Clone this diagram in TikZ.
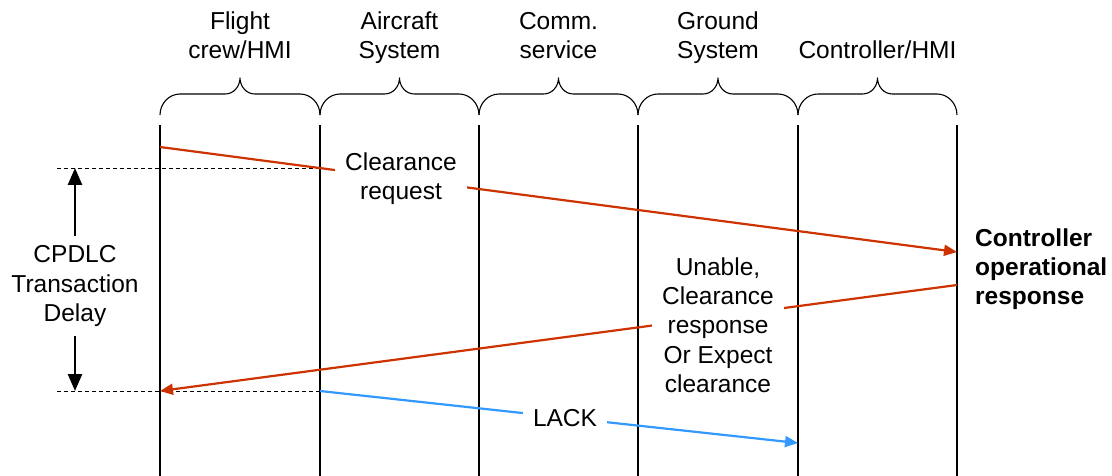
\documentclass[tikz,border=0pt]{standalone}
\usepackage{fontspec}
\setmainfont{Liberation Sans}
\usetikzlibrary{arrows.meta}
\definecolor{msgred}{RGB}{204,51,0}
\definecolor{msgblue}{RGB}{51,153,255}
\begin{document}
\begin{tikzpicture}[x=1pt,y=-1pt,
  txt/.style={font=\fontsize{24.5}{29.3}\selectfont, align=center, inner sep=0pt},
  lifeline/.style={line width=2.6pt},
  bracepath/.style={line width=1.1pt, line join=round},
  guide/.style={line width=0.8pt, dash pattern=on 4pt off 3pt},
  redmsg/.style={draw=msgred, line width=2.2pt, -{Triangle[length=13pt,width=11pt]}},
  bluemsg/.style={draw=msgblue, line width=2.2pt, -{Triangle[length=13pt,width=11pt]}},
  onlabel/.style={txt, fill=white, inner xsep=10pt, inner ysep=2pt},
  spanarrow/.style={line width=2.6pt, -{Triangle[length=17pt,width=14pt]}}
]
\useasboundingbox (0,0) rectangle (1112,476);

% lifelines
\foreach \n/\x in {L1/160,L2/320,L3/479,L4/638,L5/798,L6/957}{
  \coordinate (\n-t) at (\x,125);
  \coordinate (\n-b) at (\x,476);
  \draw[lifeline] (\n-t) -- (\n-b);
}

% braces
\foreach \a/\b in {160/320,320/479,479/638,638/798,798/957}{
  \pgfmathsetmacro\m{(\a+\b)/2}
  \draw[bracepath] (\a,115) .. controls (\a,103.5) and (\a+9,94) .. (\a+20,94)
    -- (\m-15,94) .. controls (\m-6,94) and (\m,86) .. (\m,78)
    .. controls (\m,86) and (\m+6,94) .. (\m+15,94)
    -- (\b-20,94) .. controls (\b-9,94) and (\b,103.5) .. (\b,115);
}

% headers
\node[txt] (h1) at (240,38) {\strut Flight\\\strut crew/HMI};
\node[txt] (h2) at (399.5,38) {\strut Aircraft\\\strut System};
\node[txt] (h3) at (558.5,38) {\strut Comm.\\\strut service};
\node[txt] (h4) at (718,38) {\strut Ground\\\strut System};
\node[txt] (h5) at (877.5,53) {\strut Controller/HMI};

% guide lines
\coordinate (gt-l) at (57,168); \coordinate (gt-r) at (320,168);
\coordinate (gb-l) at (57,391); \coordinate (gb-r) at (320,391);
\draw[guide] (gt-l) -- (gt-r);
\draw[guide] (gb-l) -- (gb-r);

% messages
\coordinate (m1s) at (160,147); \coordinate (m1e) at (957,252);
\coordinate (m2s) at (957,285); \coordinate (m2e) at (160,391);
\coordinate (m3s) at (320,391); \coordinate (m3e) at (798,443);
\draw[redmsg] (m1s) -- (m1e);
\draw[redmsg] (m2s) -- (m2e);
\draw[bluemsg] (m3s) -- (m3e);

\node[onlabel] (clr) at (401,179) {Clearance\\request};
\node[onlabel] (rsp) at (718,325) {Unable,\\Clearance\\response\\Or Expect\\clearance};
\node[onlabel] (ack) at (565,418) {LACK};

% delay span
\node[txt, inner ysep=9pt] (delay) at (75,286) {CPDLC\\Transaction\\Delay};
\coordinate (dtop) at (75,168);
\coordinate (dbot) at (75,391);
\draw[spanarrow] (delay.north) -- (dtop);
\draw[spanarrow] (delay.south) -- (dbot);

% controller response
\node[txt, align=left, anchor=west, font=\fontsize{24.5}{29.3}\selectfont\bfseries] (cor) at (975,269) {Controller\\operational\\response};
\end{tikzpicture}
\end{document}
